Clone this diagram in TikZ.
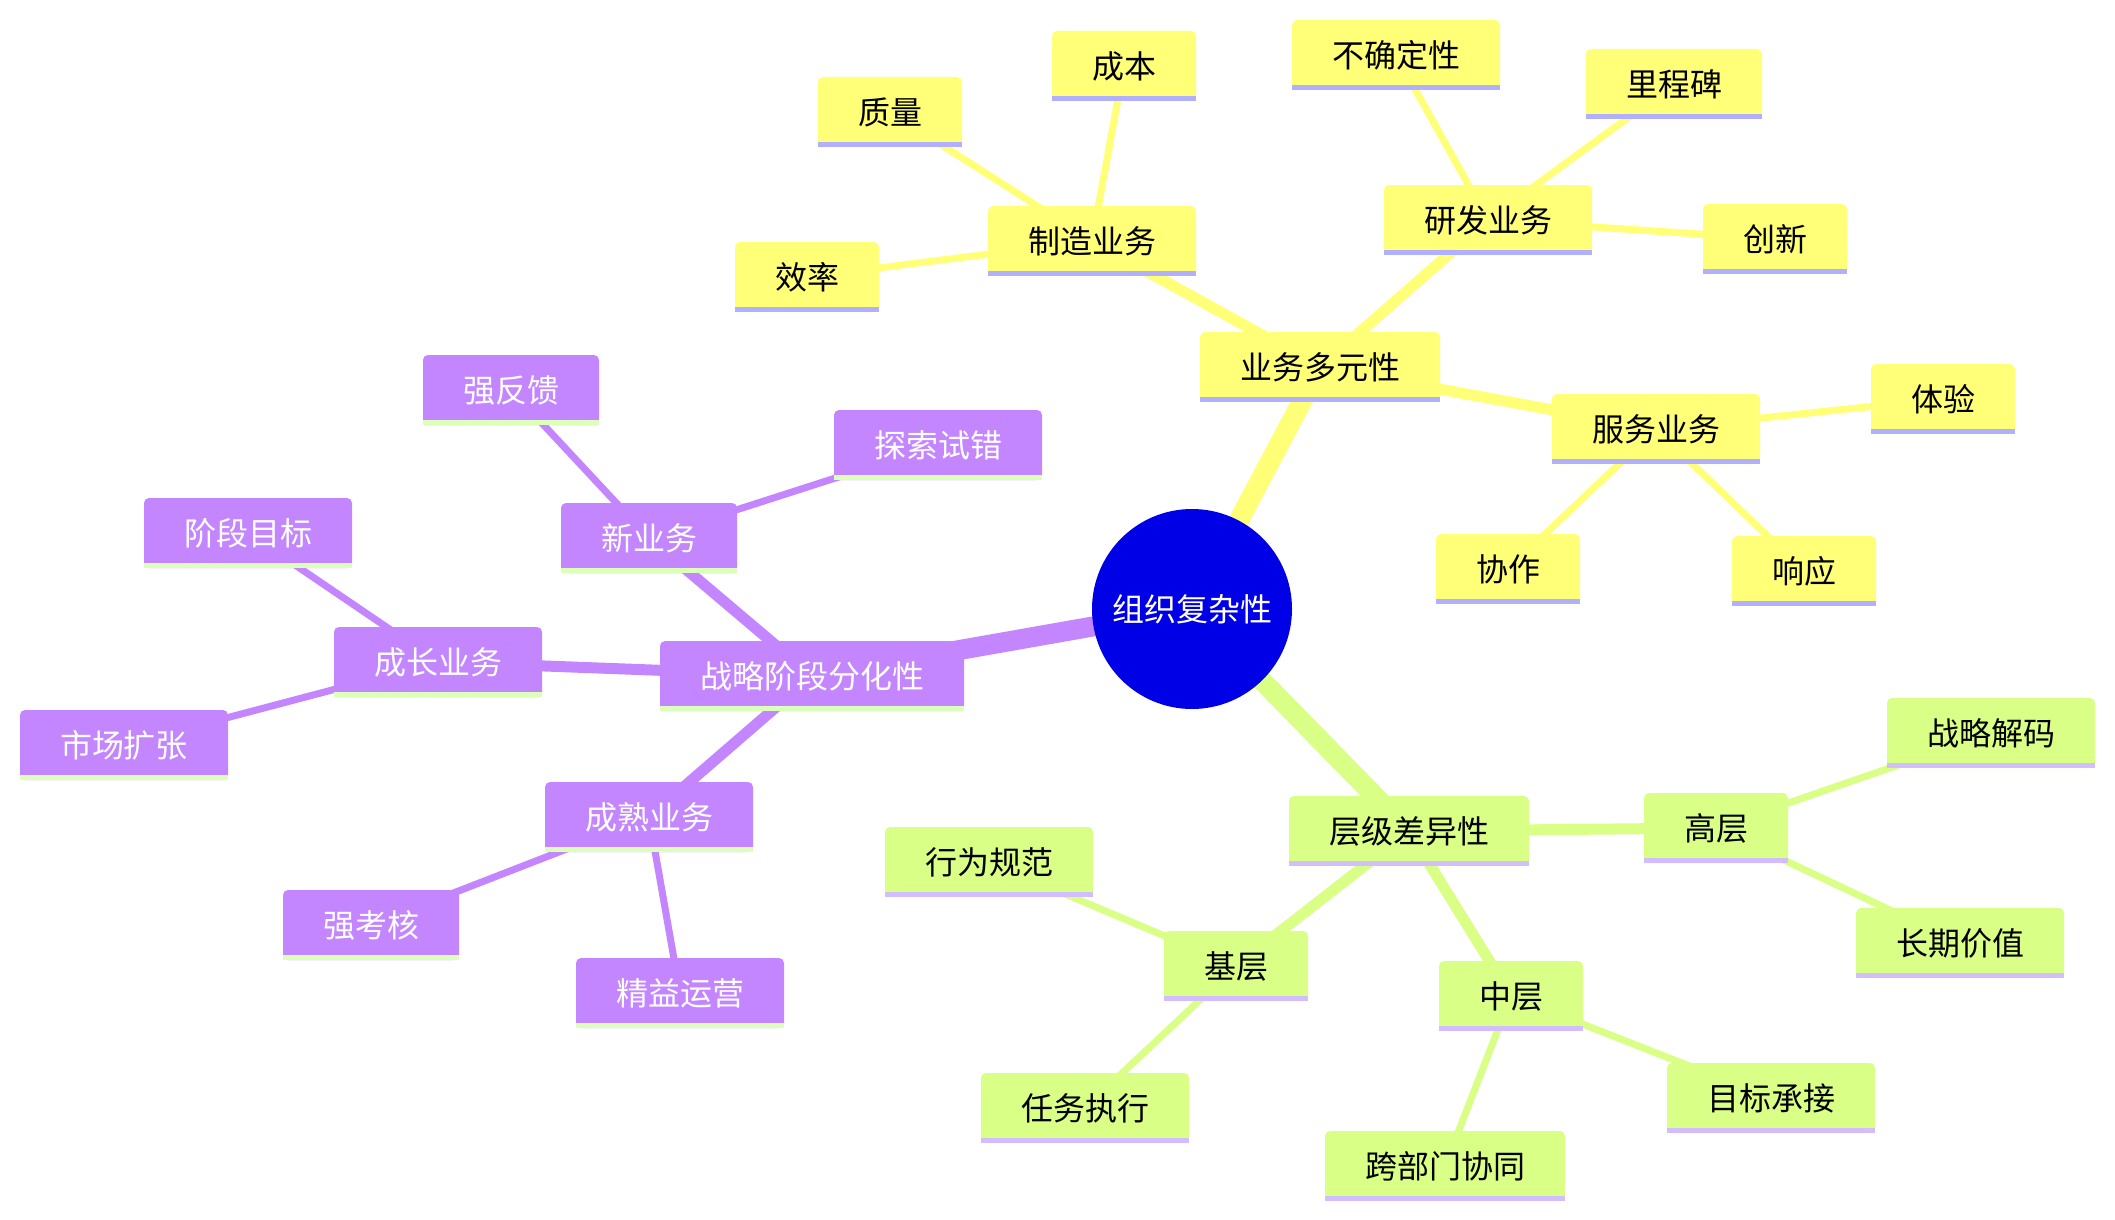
\documentclass[tikz,border=0pt]{standalone}
\usepackage{fontspec}
\setmainfont{Noto Sans CJK SC}
\usepackage{tikz}
\usetikzlibrary{backgrounds}
\definecolor{rootblue}{HTML}{0000E6}
\definecolor{secyel}{HTML}{FFFF78}
\definecolor{secyelline}{HTML}{B0B0FF}
\definecolor{secpur}{HTML}{C386FF}
\definecolor{secpurline}{HTML}{DCFFBA}
\definecolor{secgrn}{HTML}{D9FF86}
\definecolor{secgrnline}{HTML}{D2BEFF}
% box with its coloured bar underneath
\newcommand{\mmnode}[4]{%
  \node[#1box] (#2) at (#3) {#4};
  \draw[#1line] ([yshift=1.25pt]#2.south west) -- ([yshift=1.25pt]#2.south east);
}

\begin{document}
\begin{tikzpicture}[x=0.5pt, y=-0.5pt,
    box/.style={rounded corners=2.5pt, inner xsep=20pt, inner ysep=0pt,
      minimum height=35pt, font=\fontsize{16}{19}\selectfont},
    yelbox/.style={box, fill=secyel, text=black},
    purbox/.style={box, fill=secpur, text=white},
    grnbox/.style={box, fill=secgrn, text=black},
    yelline/.style={draw=secyelline, line width=2.5pt},
    purline/.style={draw=secpurline, line width=2.5pt},
    grnline/.style={draw=secgrnline, line width=2.5pt},
    trunk/.style={line width=10pt},
    branch/.style={line width=5.5pt},
    twig/.style={line width=3.5pt}]
  \useasboundingbox (0,0) rectangle (2115,1220);

  \node[circle, fill=rootblue, text=white, minimum size=100pt, inner sep=0pt,
    font=\fontsize{16}{19}\selectfont] (root) at (1192,609) {组织复杂性};

  % business diversity
  \foreach \nm/\pos/\txt in {biz/{1320,367}/业务多元性, mfg/{1092,241}/制造业务,
      rnd/{1488,220}/研发业务, svc/{1656,429}/服务业务, cost/{1124,66}/成本,
      qual/{890,112}/质量, eff/{807,277}/效率, unc/{1396,55}/不确定性,
      mile/{1674,84}/里程碑, inno/{1775,239}/创新, exper/{1943,399}/体验,
      coop/{1508,569}/协作, resp/{1804,571}/响应}
    {\mmnode{yel}{\nm}{\pos}{\txt}}

  % strategic stages
  \foreach \nm/\pos/\txt in {stage/{812,676}/战略阶段分化性, newb/{649,538}/新业务,
      grow/{438,662}/成长业务, mature/{649,817}/成熟业务, fb/{511,390}/强反馈,
      trial/{938,445}/探索试错, goal/{248,533}/阶段目标, mkt/{124,745}/市场扩张,
      assess/{371,925}/强考核, lean/{680,993}/精益运营}
    {\mmnode{pur}{\nm}{\pos}{\txt}}

  % hierarchy levels
  \foreach \nm/\pos/\txt in {level/{1409,831}/层级差异性, upper/{1716,828}/高层,
      base/{1236,966}/基层, midl/{1511,996}/中层, decode/{1991,733}/战略解码,
      longv/{1960,943}/长期价值, norm/{989,862}/行为规范, task/{1085,1108}/任务执行,
      cross/{1445,1166}/跨部门协同, target/{1771,1098}/目标承接}
    {\mmnode{grn}{\nm}{\pos}{\txt}}

  \begin{scope}[on background layer]
    \draw[secyel, trunk] (root.center) -- (biz.center);
    \draw[secpur, trunk] (root.center) -- (stage.center);
    \draw[secgrn, trunk] (root.center) -- (level.center);
    \foreach \a/\b in {biz/mfg, biz/rnd, biz/svc}
      \draw[secyel, branch] (\a.center) -- (\b.center);
    \foreach \a/\b in {mfg/cost, mfg/qual, mfg/eff, rnd/unc, rnd/mile, rnd/inno,
        svc/exper, svc/coop, svc/resp}
      \draw[secyel, twig] (\a.center) -- (\b.center);
    \foreach \a/\b in {stage/newb, stage/grow, stage/mature}
      \draw[secpur, branch] (\a.center) -- (\b.center);
    \foreach \a/\b in {newb/fb, newb/trial, grow/goal, grow/mkt, mature/assess, mature/lean}
      \draw[secpur, twig] (\a.center) -- (\b.center);
    \foreach \a/\b in {level/upper, level/base, level/midl}
      \draw[secgrn, branch] (\a.center) -- (\b.center);
    \foreach \a/\b in {upper/decode, upper/longv, base/norm, base/task,
        midl/cross, midl/target}
      \draw[secgrn, twig] (\a.center) -- (\b.center);
  \end{scope}
\end{tikzpicture}
\end{document}
